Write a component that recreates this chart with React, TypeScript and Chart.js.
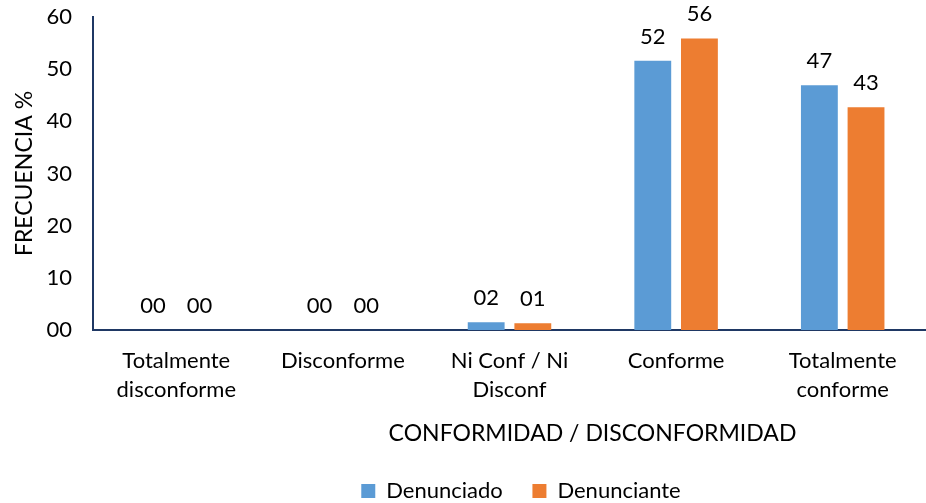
import React, { useEffect, useRef } from "react";
import { Chart, registerables } from "chart.js";

Chart.register(...registerables);

const categories: string[][] = [
  ["Totalmente", "disconforme"],
  ["Disconforme"],
  ["Ni Conf / Ni", "Disconf"],
  ["Conforme"],
  ["Totalmente", "conforme"],
];
const denunciado: number[] = [0, 0, 1.5, 51.6, 46.9];
const denunciante: number[] = [0, 0, 1.3, 55.9, 42.7];
const yTicks: number[] = [0, 10, 20, 30, 40, 50, 60];

const FONT = "Lato";
const AXIS_COLOR = "#1F3864";

const pad2 = (v: number) => String(Math.round(v)).padStart(2, "0");

const valueLabels = {
  id: "valueLabels",
  afterDatasetsDraw(chart: any) {
    const ctx = chart.ctx;
    ctx.save();
    ctx.font = `22px ${FONT}`;
    ctx.fillStyle = "#000";
    ctx.textAlign = "center";
    ctx.textBaseline = "bottom";
    chart.data.datasets.forEach((ds: any, i: number) => {
      const meta = chart.getDatasetMeta(i);
      meta.data.forEach((bar: any, j: number) => {
        ctx.fillText(pad2(ds.data[j]), bar.x, bar.y - 13);
      });
    });
    ctx.restore();
  },
};

const layoutTweaks = {
  id: "layoutTweaks",
  afterLayout(chart: any) {
    if (chart.legend) {
      chart.legend.top += 9;
      chart.legend.bottom += 9;
      chart.legend.left += 54;
      chart.legend.right += 54;
    }
    const sx = chart.scales.x;
    if (sx && !sx.__titleShifted) {
      const orig = sx.drawTitle.bind(sx);
      sx.drawTitle = (...args: any[]) => {
        const ctx = chart.ctx;
        ctx.save();
        ctx.translate(83, 0);
        orig(...args);
        ctx.restore();
      };
      sx.__titleShifted = true;
    }
  },
};

export default function App() {
  const ref = useRef<HTMLCanvasElement | null>(null);
  useEffect(() => {
    document.body.style.margin = "0";
    const chart = new Chart(ref.current!, {
      type: "bar",
      data: {
        labels: categories,
        datasets: [
          { label: "Denunciado", data: denunciado, backgroundColor: "#5B9BD5" },
          { label: "Denunciante", data: denunciante, backgroundColor: "#ED7D31" },
        ],
      },
      options: {
        animation: false,
        responsive: false,
        maintainAspectRatio: false,
        layout: { padding: { top: 17, right: 0, left: 8, bottom: 0 } },
        datasets: {
          bar: { categoryPercentage: 0.56, barPercentage: 0.79 },
        },
        scales: {
          x: {
            afterFit: (axis: any) => {
              axis.height = 139;
              axis.paddingLeft = 0;
              axis.paddingRight = 0;
            },
            grid: { display: false, drawTicks: false },
            border: { color: AXIS_COLOR, width: 2 },
            ticks: {
              color: "#000",
              font: { family: FONT, size: 22, lineHeight: 1.32 },
              padding: 16,
              maxRotation: 0,
              autoSkip: false,
            },
            title: {
              display: true,
              text: "CONFORMIDAD / DISCONFORMIDAD",
              color: "#000",
              font: { family: FONT, size: 23 },
              padding: { top: 14, bottom: 22 },
            },
          },
          y: {
            min: 0,
            max: 60,
            afterBuildTicks: (axis: any) => {
              axis.ticks = yTicks.map((v) => ({ value: v }));
            },
            afterFit: (axis: any) => {
              axis.width = 85;
              axis.paddingTop = 0;
              axis.paddingBottom = 0;
            },
            grid: { display: false, drawTicks: false },
            border: { color: AXIS_COLOR, width: 2 },
            ticks: {
              color: "#000",
              font: { family: FONT, size: 22 },
              padding: 21,
              callback: (v: any) => pad2(Number(v)),
            },
            title: {
              display: true,
              text: "FRECUENCIA %",
              color: "#000",
              font: { family: FONT, size: 23 },
              padding: { top: 3, bottom: 6 },
            },
          },
        },
        plugins: {
          legend: {
            position: "bottom",
            labels: {
              color: "#000",
              font: { family: FONT, size: 22 },
              boxWidth: 14,
              boxHeight: 14,
              padding: 2,
              generateLabels: (c: any) => {
                const items = Chart.defaults.plugins.legend.labels.generateLabels(c);
                items.forEach((it: any, i: number) => {
                  if (i < items.length - 1) it.text = it.text + "\u2002\u2002 ";
                });
                return items;
              },
            },
          },
          tooltip: { enabled: false },
        },
      },
      plugins: [valueLabels, layoutTweaks],
    });
    return () => chart.destroy();
  }, []);
  return (
    <div style={{ width: 926, height: 503 }}>
      <canvas ref={ref} width={926} height={503} style={{ display: "block" }} />
    </div>
  );
}
